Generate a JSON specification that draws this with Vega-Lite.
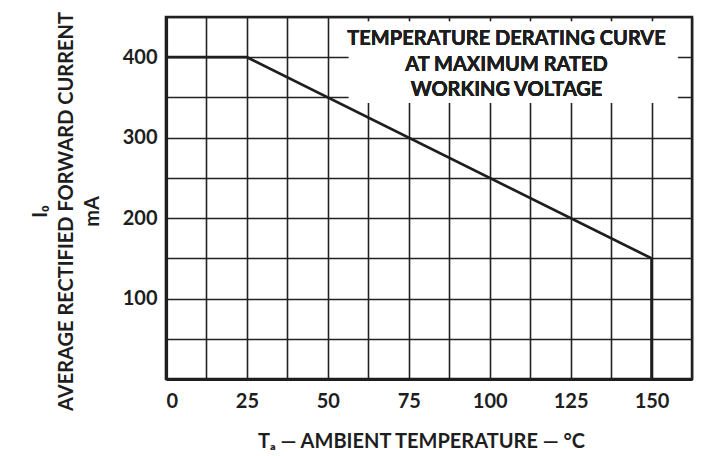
{
  "$schema": "https://vega.github.io/schema/vega-lite/v6.json",
  "width": 526,
  "height": 362,
  "autosize": {"type": "none"},
  "padding": {"left": 166, "top": 17, "right": 14, "bottom": 77},
  "background": "#ffffff",
  "config": {
    "font": "Lato",
    "view": {"stroke": "#1e1e1e", "strokeWidth": 2.5},
    "axis": {
      "labelFont": "Lato",
      "labelFontWeight": "bold",
      "labelFontSize": 20,
      "labelColor": "#1e1e1e",
      "titleFont": "Lato",
      "titleFontWeight": "bold",
      "titleFontSize": 20,
      "titleColor": "#1e1e1e",
      "ticks": false,
      "domain": true,
      "domainColor": "#1e1e1e",
      "domainWidth": 3.2,
      "grid": true,
      "gridColor": "#222222",
      "gridWidth": 1.6,
      "gridOpacity": 1
    }
  },
  "data": {
    "values": [
      {"T": 0, "I": 400},
      {"T": 25, "I": 400},
      {"T": 150, "I": 150},
      {"T": 150, "I": 0}
    ]
  },
  "layer": [
    {
      "mark": {"type": "line", "color": "#1e1e1e", "strokeWidth": 2.7, "strokeJoin": "miter"},
      "encoding": {
        "x": {
          "field": "T",
          "type": "quantitative",
          "scale": {"domain": [0, 162.5], "nice": false, "zero": false},
          "axis": {
            "grid": true,
            "values": [0, 12.5, 25, 37.5, 50, 62.5, 75, 87.5, 100, 112.5, 125, 137.5, 150, 162.5],
            "labelExpr": "(datum.value % 25 === 0 && datum.value <= 150) ? datum.label : ''",
            "labelPadding": 12,
            "labelBaseline": "top",
            "title": "Tₐ — AMBIENT TEMPERATURE — °C",
            "titleX": 255,
            "titleY": 68,
            "titleBaseline": "alphabetic",
            "titleAlign": "center"
          }
        },
        "y": {
          "field": "I",
          "type": "quantitative",
          "scale": {"domain": [0, 450], "nice": false},
          "axis": {
            "grid": true,
            "values": [0, 50, 100, 150, 200, 250, 300, 350, 400, 450],
            "labelExpr": "(datum.value % 100 === 0 && datum.value > 0 && datum.value < 450) ? datum.label : ''",
            "labelPadding": 9,
            "title": ["I₀", "AVERAGE RECTIFIED FORWARD CURRENT", "mA"],
            "titleLineHeight": 26,
            "titleAngle": -90,
            "titleX": -126,
            "titleY": 194,
            "titleBaseline": "middle",
            "titleAlign": "center"
          }
        },
        "order": {"field": "T", "type": "quantitative"}
      }
    },
    {
      "mark": {"type": "rect", "fill": "#ffffff", "stroke": null},
      "encoding": {
        "x": {"datum": 56.5, "type": "quantitative"},
        "x2": {"datum": 158},
        "y": {"datum": 343, "type": "quantitative"},
        "y2": {"datum": 444}
      }
    },
    {
      "mark": {
        "type": "text",
        "font": "Lato",
        "fontWeight": "bold",
        "fontSize": 20,
        "color": "#1e1e1e",
        "align": "center",
        "baseline": "middle",
        "lineHeight": 25.5
      },
      "encoding": {
        "x": {"datum": 105.2, "type": "quantitative"},
        "y": {"datum": 422.5, "type": "quantitative"},
        "text": {"value": ["TEMPERATURE DERATING CURVE", "AT MAXIMUM  RATED", "WORKING VOLTAGE"]}
      }
    }
  ]
}
